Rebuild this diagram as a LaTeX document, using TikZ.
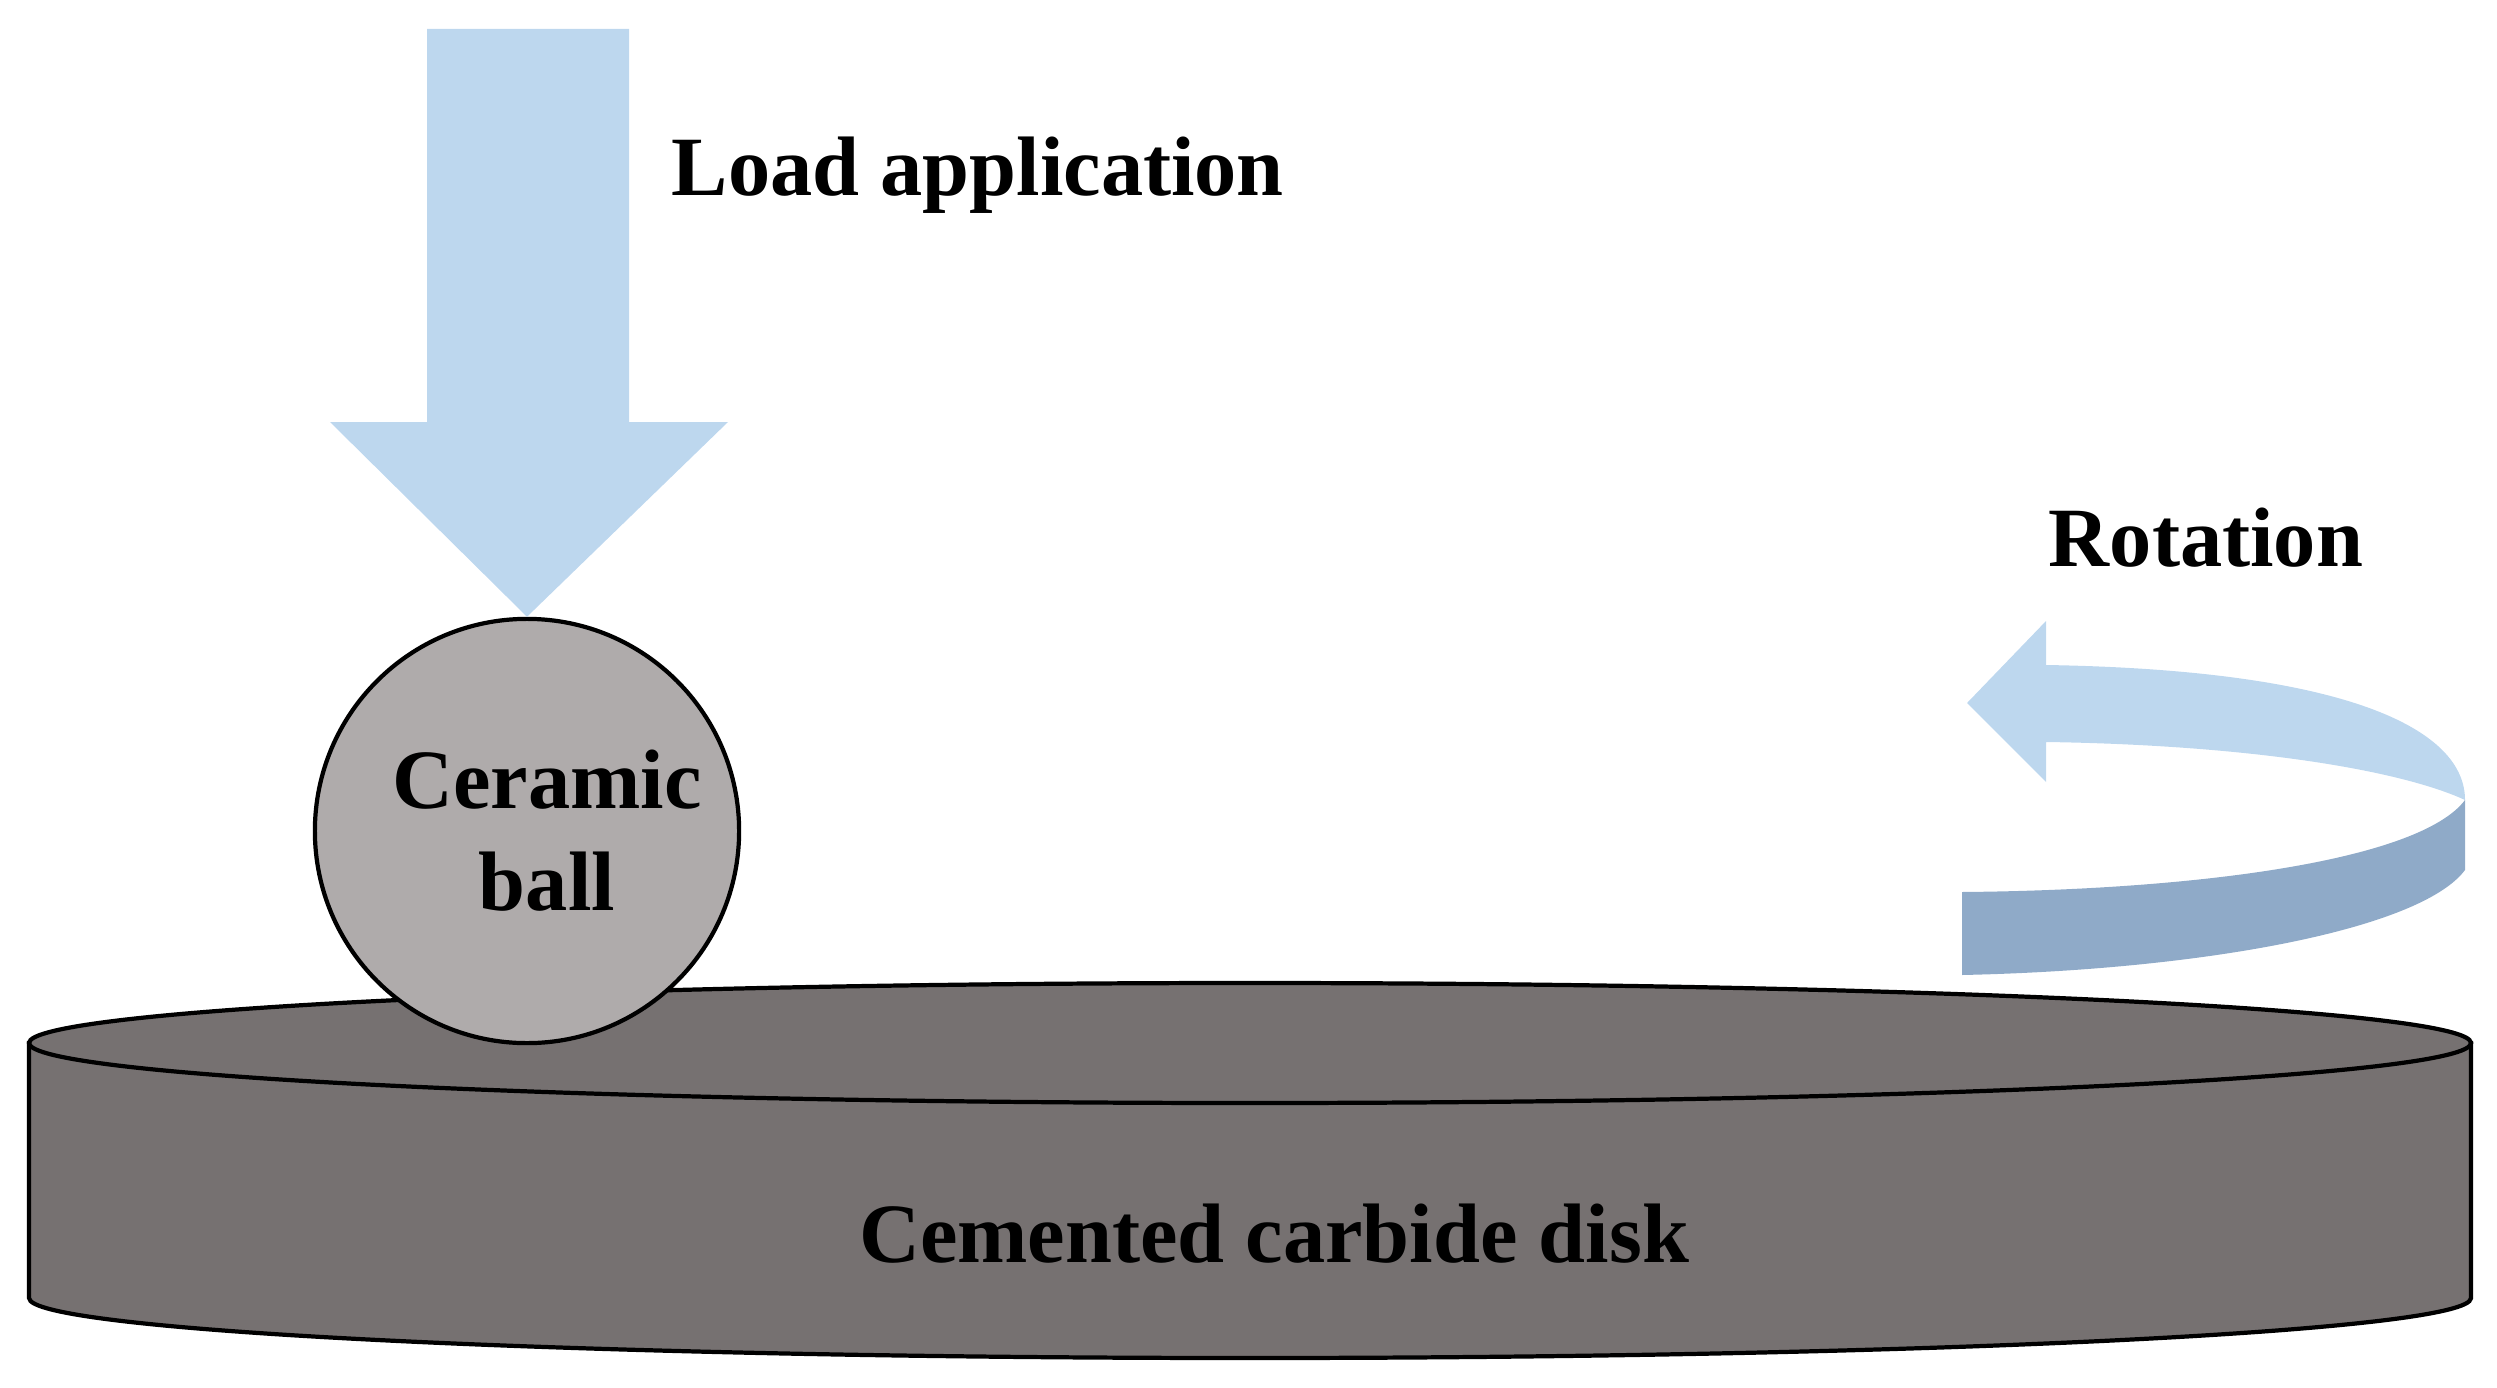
\documentclass[tikz,border=0pt]{standalone}
\usepackage{fontspec}
\setmainfont{Liberation Serif}
\usetikzlibrary{positioning}
\definecolor{loadblue}{RGB}{189,215,238}
\definecolor{rotdark}{RGB}{143,170,200}
\definecolor{ballgray}{RGB}{175,171,171}
\definecolor{diskgray}{RGB}{118,113,113}
\tikzset{
  lbl/.style={font=\fontsize{24}{29}\selectfont\bfseries, align=center},
}
\begin{document}
\begin{tikzpicture}[x=0.01cm, y=-0.01cm, line width=1.2pt]
\useasboundingbox (0,0) rectangle (2497,1388);
% disk
\draw[fill=diskgray] (29,1043) -- (29,1298) arc[start angle=180, end angle=0, x radius=1221, y radius=60] -- (2471,1043) -- cycle;
\draw[fill=diskgray] (1250,1043) ellipse[x radius=1221, y radius=60];
\node[lbl] (disk) at (1274,1234) {Cemented carbide disk};
% ball
\node[circle, draw, fill=ballgray, minimum size=4.24cm, inner sep=0, lbl] (ball) at (527,831) {\hspace*{0.4cm}Ceramic\\\hspace*{0.4cm}ball};
% load arrow
\fill[loadblue] (427,29) -- (629,29) -- (629,422) -- (728,422) -- (ball.north) -- (330,422) -- (427,422) -- cycle;
\node[lbl, anchor=west] (load) at (658,175) {Load application};
% rotation arrow
\fill[rotdark] (2465,800) -- (2465,870) .. controls (2420,930) and (2200,970) .. (1962,975)
  -- (1962,892) .. controls (2200,890) and (2420,860) .. (2465,800);
\fill[loadblue] (2046,665) .. controls (2350,670) and (2465,730) .. (2465,800)
  .. controls (2400,770) and (2250,745) .. (2046,742) -- (2046,782) -- (1967,703) -- (2046,621) -- cycle;
\node[lbl] (rot) at (2206,538) {Rotation};
\end{tikzpicture}
\end{document}
